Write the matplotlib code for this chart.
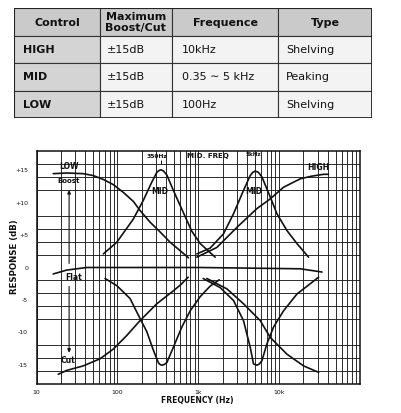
import matplotlib

matplotlib.use("Agg")
import matplotlib.pyplot as plt
import numpy as np
from matplotlib.patches import Rectangle
from matplotlib.ticker import FixedLocator, LogLocator, NullFormatter

# ---- table contents ----
TABLE_HEADER = ["Control", "Maximum\nBoost/Cut", "Frequence", "Type"]
CONTROLS = ["HIGH", "MID", "LOW"]
BOOST_CUT = ["\u00b115dB", "\u00b115dB", "\u00b115dB"]
FREQUENCE = ["10kHz", "0.35 \u223c 5 kHz", "100Hz"]
TYPES = ["Shelving", "Peaking", "Shelving"]

# ---- response curves (Hz, dB) ----
LOW_BOOST_F = [16.1, 23.6, 37.9, 50.5, 67.1, 89.2, 118.6, 157.8, 190.9, 254, 337, 449, 597, 757]
LOW_BOOST_DB = [14.5, 14.6, 14.5, 14.2, 13.6, 12.8, 11.6, 10.2, 8.8, 7.0, 5.5, 3.9, 2.6, 1.5]

LOW_CUT_F = [18.6, 23.6, 37.9, 61.1, 89.2, 130.7, 190.9, 307.5, 493, 614, 750]
LOW_CUT_DB = [-16.5, -15.9, -15.2, -14.1, -12.6, -10.5, -8.2, -5.6, -3.6, -2.6, -1.5]

MID350_BOOST_F = [67.1, 98.3, 157.8, 209.7, 266.6, 307.5, 328, 347.5, 372, 408.7, 493, 626.6, 833, 1057, 1618]
MID350_BOOST_DB = [2.1, 3.9, 7.5, 10.4, 13.2, 14.7, 15.0, 15.1, 14.9, 14.3, 11.9, 9.0, 5.6, 3.7, 1.6]

MID350_CUT_F = [70.4, 98.3, 143.6, 190.9, 231, 279, 321, 338, 354.5, 378, 408.7, 493, 626.6, 794, 1057, 1397, 1815]
MID350_CUT_DB = [-1.7, -2.8, -4.8, -7.9, -9.9, -12.8, -14.7, -15.0, -15.1, -15.0, -14.7, -12.3, -9.2, -6.7, -4.5, -2.9, -1.9]

MID5K_BOOST_F = [961, 1403, 2051, 2729, 3624, 4387, 4720, 5060, 5550, 6124, 7762, 9397, 12500, 16600, 23100]
MID5K_BOOST_DB = [2.1, 3.0, 5.2, 8.3, 11.9, 14.2, 14.7, 14.9, 14.7, 14.0, 10.9, 8.3, 5.7, 3.7, 1.6]

MID5K_CUT_F = [1150, 1866, 2729, 3624, 4387, 4822, 5309, 5700, 6124, 7063, 8531, 11330, 16600, 24270, 30760]
MID5K_CUT_DB = [-1.7, -3.1, -5.1, -8.2, -12.3, -14.9, -15.1, -14.9, -14.4, -11.8, -9.2, -6.7, -4.1, -2.5, -1.5]

HIGH_BOOST_F = [961, 1698, 3006, 5309, 7762, 11330, 18240, 25000, 35480, 40700]
HIGH_BOOST_DB = [1.6, 3.1, 6.2, 9.1, 10.6, 12.4, 13.7, 14.1, 14.4, 14.4]

HIGH_CUT_F = [1278, 2259, 3624, 5834, 7762, 12500, 20050, 30760]
HIGH_CUT_DB = [-1.7, -3.3, -5.6, -8.2, -10.8, -13.4, -15.2, -16.2]

FLAT_F = [16.1, 23.6, 41.8, 1057, 18240, 33880]
FLAT_DB = [-1.0, -0.4, 0.0, 0.0, -0.2, -0.7]

MID_FREQS = [350, 5000]
Y_TICKS = [15, 10, 5, 0, -5, -10, -15]
Y_TICK_LABELS = ["+15", "+10", "+5", "0", "-5", "-10", "-15"]
X_TICKS = [10, 100, 1000, 10000, 100000]
X_TICK_LABELS = ["10", "100", "1k", "10k", ""]

plt.rcParams.update({
    "font.family": ["DejaVu Sans"],
})

W, H = 401, 413
fig = plt.figure(figsize=(W / 100, H / 100), dpi=100)
fig.patch.set_facecolor("white")

# ---------------- table ----------------
tax = fig.add_axes([14 / W, 1 - 118.3 / H, 358 / W, 110 / H])
tax.set_xlim(0, 358)
tax.set_ylim(110, 0)
tax.axis("off")

col_edges = [0, 86, 157.7, 264.3, 357.7]
row_edges = [0, 27.4, 55, 82.4, 110]
header_bg = "#cacaca"
label_bg = "#d4d4d4"
body_bg = "#f3f3f3"
line_c = "#333333"

body_cols = [CONTROLS, BOOST_CUT, FREQUENCE, TYPES]
pads = [9, 7, 10, 8]
for r in range(4):
    for c in range(4):
        x0, x1 = col_edges[c], col_edges[c + 1]
        y0, y1 = row_edges[r], row_edges[r + 1]
        if r == 0:
            fc = header_bg
        elif c == 0:
            fc = label_bg
        else:
            fc = body_bg
        tax.add_patch(Rectangle((x0, y0), x1 - x0, y1 - y0, facecolor=fc,
                                edgecolor=line_c, linewidth=0.8))
        yc = (y0 + y1) / 2
        if r == 0:
            tax.text((x0 + x1) / 2, yc + 0.5, TABLE_HEADER[c], ha="center", va="center",
                     fontsize=8, fontweight="bold", linespacing=1.05, color="#111111")
        else:
            tax.text(x0 + pads[c], yc + 0.5, body_cols[c][r - 1], ha="left", va="center",
                     fontsize=8, fontweight="bold" if c == 0 else "normal", color="#111111")
tax.add_patch(Rectangle((0, 0), 357.7, 110, fill=False, edgecolor="#222222", linewidth=1.3))

# ---------------- response chart ----------------
ax = fig.add_axes([36.5 / W, 1 - 384 / H, 323.5 / W, 233 / H])
ax.set_xscale("log")
ax.set_xlim(10, 100000)
ax.set_ylim(-18, 18)

ax.set_xticks(X_TICKS)
ax.set_xticklabels(X_TICK_LABELS)
ax.xaxis.set_minor_locator(LogLocator(base=10, subs=np.arange(2, 10)))
ax.xaxis.set_minor_formatter(NullFormatter())
ax.set_yticks(Y_TICKS)
ax.set_yticklabels(Y_TICK_LABELS)
ax.yaxis.set_minor_locator(FixedLocator(np.arange(-16, 17, 2)))

ax.grid(which="both", axis="x", color="#1c1c1c", linewidth=0.65)
ax.grid(which="minor", axis="y", color="#1c1c1c", linewidth=0.65)
ax.grid(which="major", axis="y", visible=False)
ax.set_axisbelow(True)
ax.tick_params(which="both", length=0, labelsize=4.5, colors="#111111")
ax.tick_params(axis="x", pad=4)
ax.tick_params(axis="y", pad=6)
for sp in ax.spines.values():
    sp.set_linewidth(1.1)
    sp.set_color("#111111")

curves = [
    (LOW_BOOST_F, LOW_BOOST_DB), (LOW_CUT_F, LOW_CUT_DB),
    (MID350_BOOST_F, MID350_BOOST_DB), (MID350_CUT_F, MID350_CUT_DB),
    (MID5K_BOOST_F, MID5K_BOOST_DB), (MID5K_CUT_F, MID5K_CUT_DB),
    (HIGH_BOOST_F, HIGH_BOOST_DB), (HIGH_CUT_F, HIGH_CUT_DB),
    (FLAT_F, FLAT_DB),
]
for f, db in curves:
    ax.plot(f, db, color="#111111", linewidth=1.2, solid_capstyle="round",
            solid_joinstyle="round", zorder=3)

# labels inside the plot
lab = dict(color="#111111", fontweight="bold", ha="center", va="center", zorder=4)
ax.text(25.2, 15.6, "LOW", fontsize=5.5, **lab)
ax.text(25.2, 13.3, "Boost", fontsize=5.0, **lab)
ax.text(28.5, -1.6, "Flat", fontsize=5.5, **lab)
ax.text(24.8, -14.4, "Cut", fontsize=5.5, **lab)
ax.text(337, 11.7, "MID", fontsize=5.5, **lab)
ax.text(4820, 11.7, "MID", fontsize=5.5, **lab)
ax.text(30800, 15.4, "HIGH", fontsize=5.5, **lab)
ax.text(307, 17.2, "350Hz", fontsize=4.3, **lab)
ax.text(4820, 17.4, "5kHz", fontsize=4.1, **lab)
ax.text(1324, 17.2, "MID. FREQ", fontsize=5.1, **lab)
ax.vlines(MID_FREQS, 16.0, 16.6, color="#111111", linewidth=0.7, zorder=4)

arrow = dict(arrowstyle="-|>", color="#111111", lw=0.8, mutation_scale=5)
ax.annotate("", xy=(25.3, 12.4), xytext=(25.3, 0.2), arrowprops=arrow, zorder=4)
ax.annotate("", xy=(25.3, -13.6), xytext=(25.3, -2.5), arrowprops=arrow, zorder=4)

fig.text(15 / W, 1 - 256.5 / H, "RESPONSE (dB)", rotation=90, ha="center", va="center",
         fontsize=6.2, fontweight="bold", color="#111111")
fig.text(197.5 / W, 1 - 400.5 / H, "FREQUENCY (Hz)", ha="center", va="center",
         fontsize=5.5, fontweight="bold", color="#111111")

fig.savefig("out.png", dpi=100, facecolor="white")
